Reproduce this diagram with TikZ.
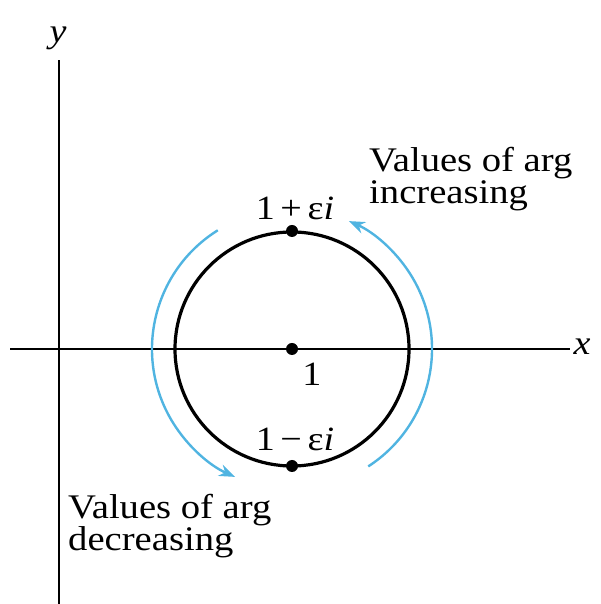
\documentclass[tikz,border=0pt]{standalone}
\usepackage{fontspec}
\setmainfont[FakeStretch=1.12]{Liberation Serif}
\usetikzlibrary{arrows.meta}
\definecolor{argblue}{RGB}{80,180,225}
\begin{document}
\begin{tikzpicture}[x=1pt,y=1pt,
  axis/.style={line width=1.8pt,black},
  circ/.style={line width=3.2pt,black},
  dot/.style={circle,fill=black,inner sep=0pt,minimum size=12pt},
  argarrow/.style={line width=2.4pt,argblue,-{Stealth[length=16pt,width=12pt]}},
  lbl/.style={font=\fontsize{34}{31}\selectfont,inner sep=0pt},
  note/.style={font=\fontsize{34.5}{32}\selectfont,align=left,inner sep=0pt,anchor=north west}]
\useasboundingbox (0,0) rectangle (600,604);
\coordinate (xl) at (10,255);
\coordinate (xr) at (570,255);
\coordinate (yb) at (59,0);
\coordinate (yt) at (59,544);
\draw[axis] (xl) -- (xr);
\draw[axis] (yb) -- (yt);
\node[lbl,font=\fontsize{34}{31}\selectfont\itshape] (xlab) at (582,257) {x};
\node[lbl,font=\fontsize{34}{31}\selectfont\itshape] (ylab) at (58,566) {y};
\coordinate (c) at (292,255);
\draw[circ] (c) circle[radius=117];
\node[dot] (one) at (c) {};
\node[dot] (top) at (292,373) {};
\node[dot] (bot) at (292,138) {};
\node[lbl] (onelab) at (312,230) {1};
\node[lbl] (toplab) at (295,396) {1\,+\,ε\textit{i}};
\node[lbl] (botlab) at (295,165) {1\,−\,ε\textit{i}};
\draw[argarrow] ([shift={(-57:140)}]c) arc[start angle=-57,end angle=66,radius=140];
\draw[argarrow] ([shift={(122:140)}]c) arc[start angle=122,end angle=246,radius=140];
\node[note] (inc) at (369,457) {Values of arg\\increasing};
\node[note] (dec) at (68,110) {Values of arg\\decreasing};
\end{tikzpicture}
\end{document}
